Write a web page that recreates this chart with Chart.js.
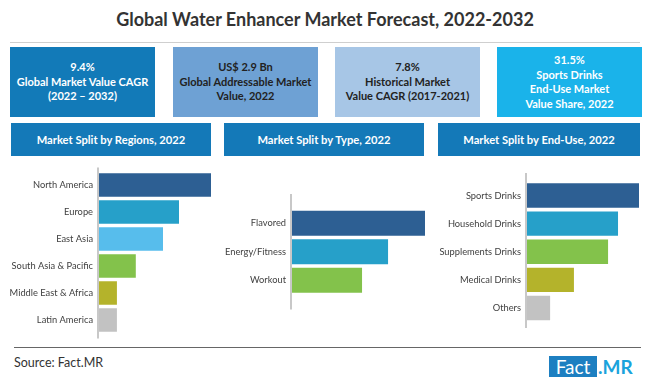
<!DOCTYPE html>
<html>
<head>
<meta charset="utf-8">
<script src="https://cdn.jsdelivr.net/npm/chart.js@4"></script>
<style>
  body { margin: 0; background: #fff; font-family: "Lato", "Open Sans", sans-serif; }
  #page { position: relative; width: 650px; height: 381px; overflow: hidden; background: #fff; }
  .abs { position: absolute; }
  #title { left: 0; top: 8px; width: 650px; text-align: center; font-size: 18px; font-weight: 700; color: #333; }
  #titleLine { left: 10px; top: 42px; width: 630px; height: 1px; background: #cfcfcf; }
  .kpi { top: 47px; width: 145px; height: 70px; display: flex; align-items: center; justify-content: center;
         text-align: center; font-size: 11px; font-weight: 700; line-height: 14.5px; }
  .hdr { top: 123px; height: 33px; display: flex; align-items: center; justify-content: center;
         background: #1479b8; color: #fff; font-size: 11.2px; font-weight: 700; }
  canvas.chart { position: absolute; }
  #srcLine { left: 14px; top: 347px; width: 627px; height: 1px; background: #666; }
  #src { left: 14px; top: 355px; font-size: 12.5px; color: #333; }
  #logoBox { left: 549px; top: 356px; width: 48px; height: 21px; background: #1d7fc1; color: #fff;
             font-size: 19px; line-height: 21px; text-align: center; }
  #logoMr { left: 598px; top: 356px; height: 21px; color: #1aa3dc; font-size: 19px; font-weight: 700; line-height: 21px; }
</style>
</head>
<body>
<div id="page">
  <div id="title" class="abs">Global Water Enhancer Market Forecast, 2022-2032</div>
  <div id="titleLine" class="abs"></div>

  <div class="abs kpi" style="left:10px;background:#127ab8;color:#fff;">9.4%<br>Global Market Value CAGR<br>(2022 – 2032)</div>
  <div class="abs kpi" style="left:173px;background:#6ea1d4;color:#222;">US$ 2.9 Bn<br>Global Addressable Market<br>Value, 2022</div>
  <div class="abs kpi" style="left:335px;background:#a7c6e6;color:#222;">7.8%<br>Historical Market<br>Value CAGR (2017-2021)</div>
  <div class="abs kpi" style="left:497px;background:#1ab3ea;color:#fff;">31.5%<br>Sports Drinks<br>End-Use Market<br>Value Share, 2022</div>

  <div class="abs hdr" style="left:11px;width:200px;">Market Split by Regions, 2022</div>
  <div class="abs hdr" style="left:224px;width:200px;">Market Split by Type, 2022</div>
  <div class="abs hdr" style="left:438px;width:202px;">Market Split by End-Use, 2022</div>

  <canvas id="regionChart" class="chart" width="215" height="185" style="left:0px;top:160px;"></canvas>
  <canvas id="typeChart" class="chart" width="215" height="185" style="left:215px;top:160px;"></canvas>
  <canvas id="endUseChart" class="chart" width="220" height="185" style="left:430px;top:160px;"></canvas>

  <div id="srcLine" class="abs"></div>
  <div id="src" class="abs">Source: Fact.MR</div>
  <div id="logoBox" class="abs">Fact</div>
  <div id="logoMr" class="abs">.MR</div>
</div>

<script>
// market split values (share %)
const regionLabels = ["North America", "Europe", "East Asia", "South Asia & Pacific", "Middle East & Africa", "Latin America"];
const regionValues = [35, 25, 20, 11.5, 5.6, 5.6];
const regionColors = ["#2d5f93", "#26a0c9", "#57bdec", "#83c24b", "#b4b32b", "#c2c2c2"];

const typeLabels = ["Flavored", "Energy/Fitness", "Workout"];
const typeValues = [45, 32.5, 23.7];
const typeColors = ["#2d5f93", "#26a0c9", "#83c24b"];

const endUseLabels = ["Sports Drinks", "Household Drinks", "Supplements Drinks", "Medical Drinks", "Others"];
const endUseValues = [31.5, 25.6, 22.8, 13.2, 6.5];
const endUseColors = ["#2d5f93", "#26a0c9", "#83c24b", "#b4b32b", "#c2c2c2"];

// vertical axis line that runs a bit past the bars
const axisLine = {
  id: "axisLine",
  afterDraw(chart, args, opts) {
    const ctx = chart.ctx;
    const a = chart.chartArea;
    ctx.save();
    ctx.strokeStyle = "#c8c8c8";
    ctx.lineWidth = 2;
    ctx.beginPath();
    ctx.moveTo(a.left - 1, a.top - opts.top);
    ctx.lineTo(a.left - 1, a.bottom + opts.bottom);
    ctx.stroke();
    ctx.restore();
  }
};

function makeChart(id, labels, values, colors, cfg) {
  const ctx = document.getElementById(id).getContext("2d");
  return new Chart(ctx, {
    type: "bar",
    data: {
      labels: labels,
      datasets: [{ data: values, backgroundColor: colors, borderWidth: 0,
                   barPercentage: 0.87, categoryPercentage: 1 }]
    },
    options: {
      indexAxis: "y",
      responsive: false,
      animation: false,
      layout: { padding: cfg.padding },
      plugins: {
        legend: { display: false },
        tooltip: { enabled: false },
        axisLine: cfg.axis
      },
      scales: {
        x: { display: false, min: 0, max: values[0] },
        y: {
          grid: { display: false, drawTicks: false },
          border: { display: false },
          ticks: { color: "#404040", padding: 6, font: { family: "Lato", size: 9.3 } },
          afterFit: s => { s.width = cfg.axisX; }
        }
      }
    },
    plugins: [axisLine]
  });
}

makeChart("regionChart", regionLabels, regionValues, regionColors, {
  axisX: 99, padding: { top: 7, bottom: 10, right: 4, left: 0 }, axis: { top: 4, bottom: 5 }
});
makeChart("typeChart", typeLabels, typeValues, typeColors, {
  axisX: 77, padding: { top: 49, bottom: 50.5, right: 5, left: 0 }, axis: { top: 15, bottom: 15 }
});
makeChart("endUseChart", endUseLabels, endUseValues, endUseColors, {
  axisX: 97, padding: { top: 21.5, bottom: 23, right: 11, left: 0 }, axis: { top: 8.5, bottom: 6 }
});
</script>
</body>
</html>
